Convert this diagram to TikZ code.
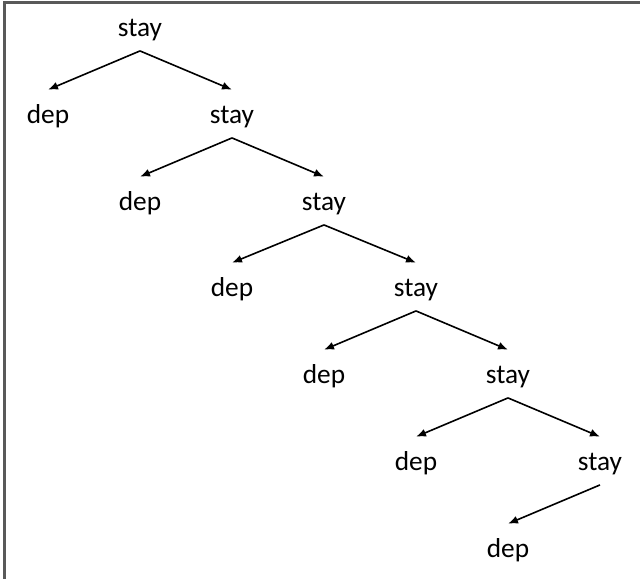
\documentclass[tikz,border=0pt]{standalone}
\usepackage{fontspec}
\setmainfont{Carlito}
\usetikzlibrary{arrows.meta}

\begin{document}
\begin{tikzpicture}[x=0.75pt, y=-0.75pt, >={Latex[length=7.5pt,width=6pt]},
    word/.style={inner sep=0pt, text height=24.75pt, text depth=11pt, anchor=base,
        font=\fontsize{20.5}{24}\selectfont}]
    \useasboundingbox (0,0) rectangle (640,579);
    % Frame
    \draw[line width=2pt, black!65] (4.5,579) -- (4.5,2.5) -- (640,2.5);

    % Nodes
    \node[word] (stay1) at (140,36) {stay};
    \node[word] (dep1) at (48,123) {dep};
    \node[word] (stay2) at (232,123) {stay};
    \node[word] (dep2) at (140,210) {dep};
    \node[word] (stay3) at (324,210) {stay};
    \node[word] (dep3) at (232,296) {dep};
    \node[word] (stay4) at (416,296) {stay};
    \node[word] (dep4) at (324,383) {dep};
    \node[word] (stay5) at (508,383) {stay};
    \node[word] (dep5) at (416,470) {dep};
    \node[word] (stay6) at (600,470) {stay};
    \node[word] (dep6) at (508,557) {dep};

    % Arrows
    \draw[->, line width=1.2pt] (stay1.south) -- (dep1.north);
    \draw[->, line width=1.2pt] (stay1.south) -- (stay2.north);
    \draw[->, line width=1.2pt] (stay2.south) -- (dep2.north);
    \draw[->, line width=1.2pt] (stay2.south) -- (stay3.north);
    \draw[->, line width=1.2pt] (stay3.south) -- (dep3.north);
    \draw[->, line width=1.2pt] (stay3.south) -- (stay4.north);
    \draw[->, line width=1.2pt] (stay4.south) -- (dep4.north);
    \draw[->, line width=1.2pt] (stay4.south) -- (stay5.north);
    \draw[->, line width=1.2pt] (stay5.south) -- (dep5.north);
    \draw[->, line width=1.2pt] (stay5.south) -- (stay6.north);
    \draw[->, line width=1.2pt] (stay6.south) -- (dep6.north);
\end{tikzpicture}
\end{document}
